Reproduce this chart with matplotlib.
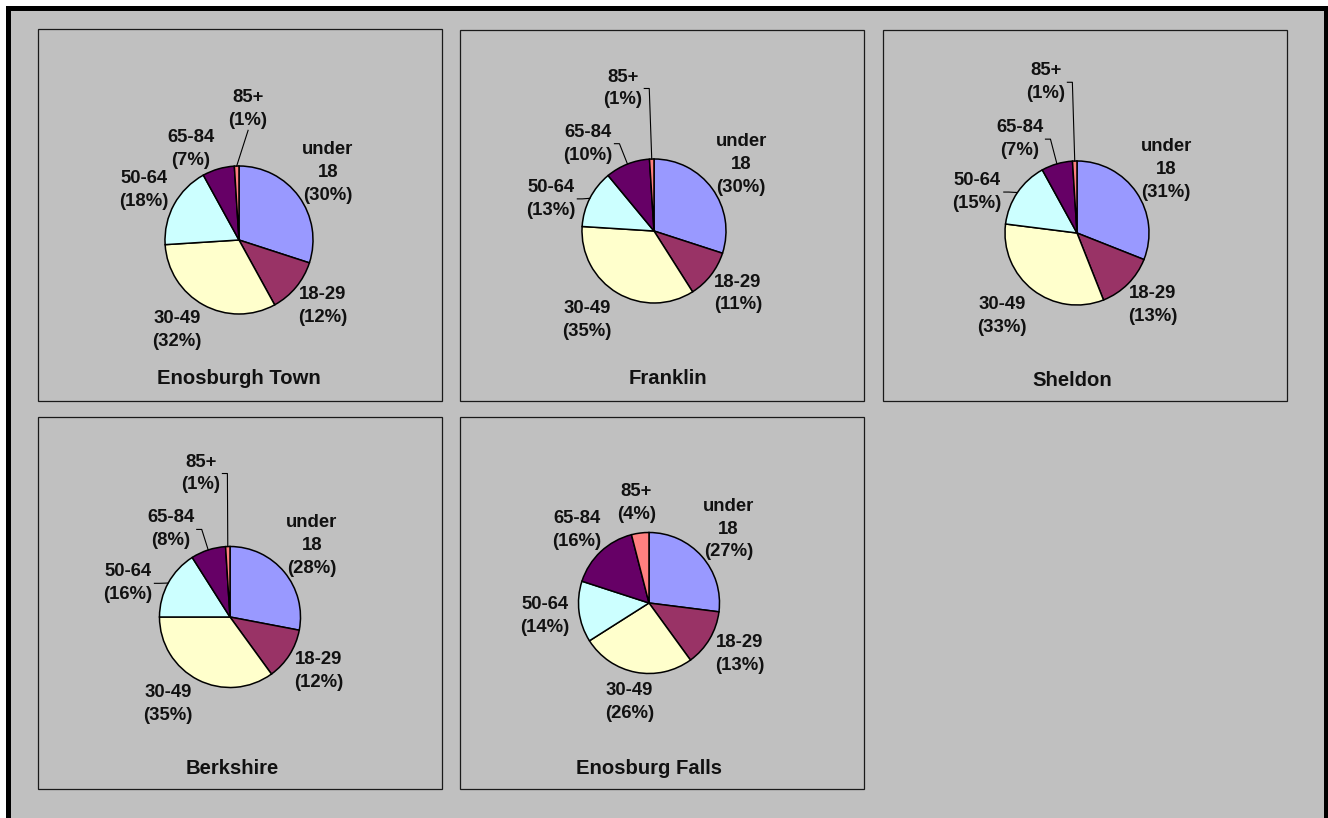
import numpy as np
import matplotlib
matplotlib.use("Agg")
import matplotlib.pyplot as plt
from matplotlib.patches import Rectangle

plt.rcParams['font.family'] = ['Liberation Sans', 'DejaVu Sans']

# age breakdown per town (percent)
age_groups = ["under 18", "18-29", "30-49", "50-64", "65-84", "85+"]
towns = ["Enosburgh Town", "Franklin", "Sheldon", "Berkshire", "Enosburg Falls"]
enosburgh_town = [30, 12, 32, 18, 7, 1]
franklin = [30, 11, 35, 13, 10, 1]
sheldon = [31, 13, 33, 15, 7, 1]
berkshire = [28, 12, 35, 16, 8, 1]
enosburg_falls = [27, 13, 26, 14, 16, 4]
town_values = [enosburgh_town, franklin, sheldon, berkshire, enosburg_falls]
colors = ["#9999FF", "#993366", "#FFFFCC", "#CCFFFF", "#660066", "#FF8080"]

W, H = 1328, 818

# layout in screen pixels (y down)
panel_boxes = [(38, 29, 442, 401), (460, 30, 864, 401), (883, 30, 1287, 401),
               (38, 417, 442, 789), (460, 417, 864, 789)]
pie_spots = [(239, 240, 74), (654, 231, 72), (1077, 233, 72),
             (230, 617, 70.5), (649, 603, 70.5)]
title_spots = [(239, 378), (668, 379), (1072, 380), (232, 768), (649, 768)]
# label tweaks: index -> (angle, gap, leader line)
label_moves = [
    {5: (86, 37, True), 4: (117, 8, False), 2: (-123.3, 14, False)},
    {5: (102.4, 54, True), 4: (126, 16, True), 3: (162, 12, True),
     2: (-125.9, 18, False)},
    {5: (101.7, 62, True), 4: (120.5, 17, True), 3: (156.8, 12, True),
     2: (-131, 18, False)},
    {5: (101.5, 56, True), 4: (123, 14, True), 3: (161, 13, True),
     2: (-124.3, 14.5, False)},
    {},
]


def Y(py):
    return H - py


fig = plt.figure(figsize=(W / 100, H / 100), dpi=100)
ax = fig.add_axes([0, 0, 1, 1])
renderer = fig.canvas.get_renderer()

ax.add_patch(Rectangle((7.5, Y(840)), W - 10, 840 - 8, facecolor="#C0C0C0",
                       edgecolor="black", linewidth=3.6, zorder=0))

for k, vals in enumerate(town_values):
    x0, y0, x1, y1 = panel_boxes[k]
    ax.add_patch(Rectangle((x0, Y(y1)), x1 - x0, y1 - y0, facecolor="none",
                           edgecolor="#1a1a1a", linewidth=0.9, zorder=1))
    cx, cy, r = pie_spots[k]
    cyd = Y(cy)
    wedges, _ = ax.pie(vals, colors=colors, startangle=90, counterclock=False,
                       center=(cx, cyd), radius=r, frame=True,
                       wedgeprops=dict(edgecolor="black", linewidth=1.1))
    for i, w in enumerate(wedges):
        mid = (w.theta1 + w.theta2) / 2
        ang, gap, leader = label_moves[k].get(i, (mid, 10, False))
        name = age_groups[i].replace(" ", "\n")
        t = ax.text(0, 0, f"{name}\n({vals[i]}%)", ha="center", va="center",
                    fontsize=13.3, fontweight="bold", linespacing=1.45,
                    multialignment="center", color="#111111")
        bb = t.get_window_extent(renderer)
        tw, th = bb.width, bb.height
        a = np.radians(ang)
        D = r + gap
        tx = cx + (D + tw / 2) * np.cos(a)
        ty = cyd + (D + th / 2) * np.sin(a)
        t.set_position((tx, ty))
        if leader:
            m = np.radians(mid)
            wx, wy = cx + r * np.cos(m), cyd + r * np.sin(m)
            right = tx + tw / 2
            if right < wx - 2:
                xs = [right + 2, right + 7, wx]
                ys = [ty, ty, wy]
            else:
                xs = [tx, wx]
                ys = [ty - th / 2 - 1, wy]
            ax.plot(xs, ys, color="black", linewidth=0.8)
    tx, ty = title_spots[k]
    ax.text(tx, Y(ty), towns[k], ha="center", va="center", fontsize=14.6,
            fontweight="bold", color="#111111")

ax.set_xlim(0, W)
ax.set_ylim(0, H)
ax.set_aspect("equal")
ax.axis("off")

fig.savefig("out.png", dpi=100, facecolor="white")
